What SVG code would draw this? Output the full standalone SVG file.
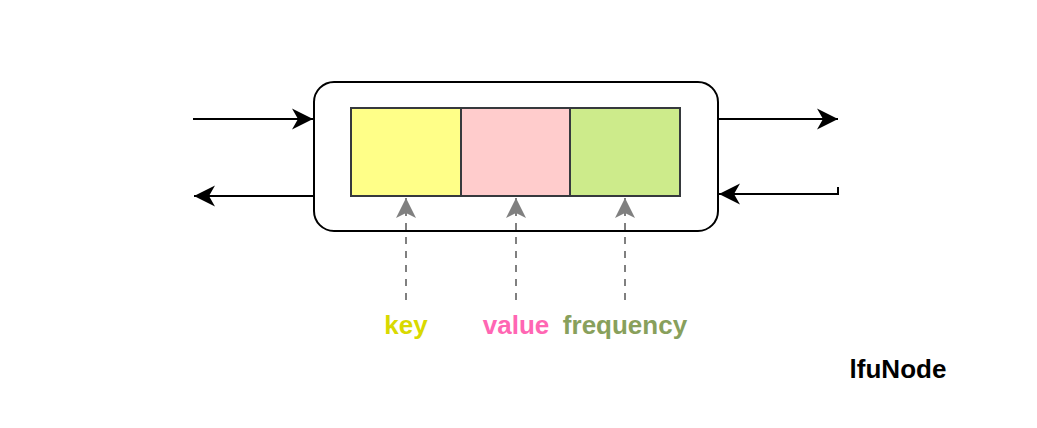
<svg xmlns="http://www.w3.org/2000/svg" width="1037" height="428" viewBox="0 0 1037 428">
<style>
.cell{stroke:#36393d;stroke-width:2}
.conn{fill:none;stroke:#000;stroke-width:2}
.dash{fill:none;stroke:#808080;stroke-width:2;stroke-dasharray:7 7}
.lbl{font-family:"Liberation Sans",Arial,sans-serif;font-weight:bold;font-size:26px;text-anchor:middle}
</style>
<defs>
<marker id="ah" viewBox="-22 -12 23 24" refX="0" refY="0" markerWidth="23" markerHeight="24" markerUnits="userSpaceOnUse" orient="auto">
<path d="M0,0 L-21,-10.5 L-15,0 L-21,10.5 Z" fill="#000"/>
</marker>
<marker id="ag" viewBox="-22 -12 23 24" refX="0" refY="0" markerWidth="23" markerHeight="24" markerUnits="userSpaceOnUse" orient="auto">
<path d="M0,0 L-20,-10 L-15,0 L-20,10 Z" fill="#808080"/>
</marker>
</defs>
<rect width="1037" height="428" fill="#fff"/>
<g id="node">
<rect x="314" y="82" width="404" height="149" rx="20" ry="20" fill="#fff" stroke="#000" stroke-width="2"/>
</g>
<g id="key-cell"><rect class="cell" x="351" y="108" width="110" height="88" fill="#ffff88"/></g>
<g id="value-cell"><rect class="cell" x="461" y="108" width="109" height="88" fill="#ffcccc"/></g>
<g id="freq-cell"><rect class="cell" x="570" y="108" width="110" height="88" fill="#cdeb8b"/></g>
<g id="connectors">
<path class="conn" d="M193,119 L313,119" marker-end="url(#ah)"/>
<path class="conn" d="M314,196 L194,196" marker-end="url(#ah)"/>
<path class="conn" d="M718,119 L838,119" marker-end="url(#ah)"/>
<path class="conn" d="M838,187 L838,194 L719,194" marker-end="url(#ah)"/>
<path class="dash" d="M406,300 L406,198" marker-end="url(#ag)"/>
<path class="dash" d="M516,300 L516,198" marker-end="url(#ag)"/>
<path class="dash" d="M625,300 L625,198" marker-end="url(#ag)"/>
</g>
<g id="labels">
<text class="lbl" x="406" y="334" fill="#d9d900">key</text>
<text class="lbl" x="516" y="334" fill="#ff66b3">value</text>
<text class="lbl" x="625" y="334" fill="#88a05c">frequency</text>
<text class="lbl" x="898" y="378" fill="#000">lfuNode</text>
</g>
</svg>
